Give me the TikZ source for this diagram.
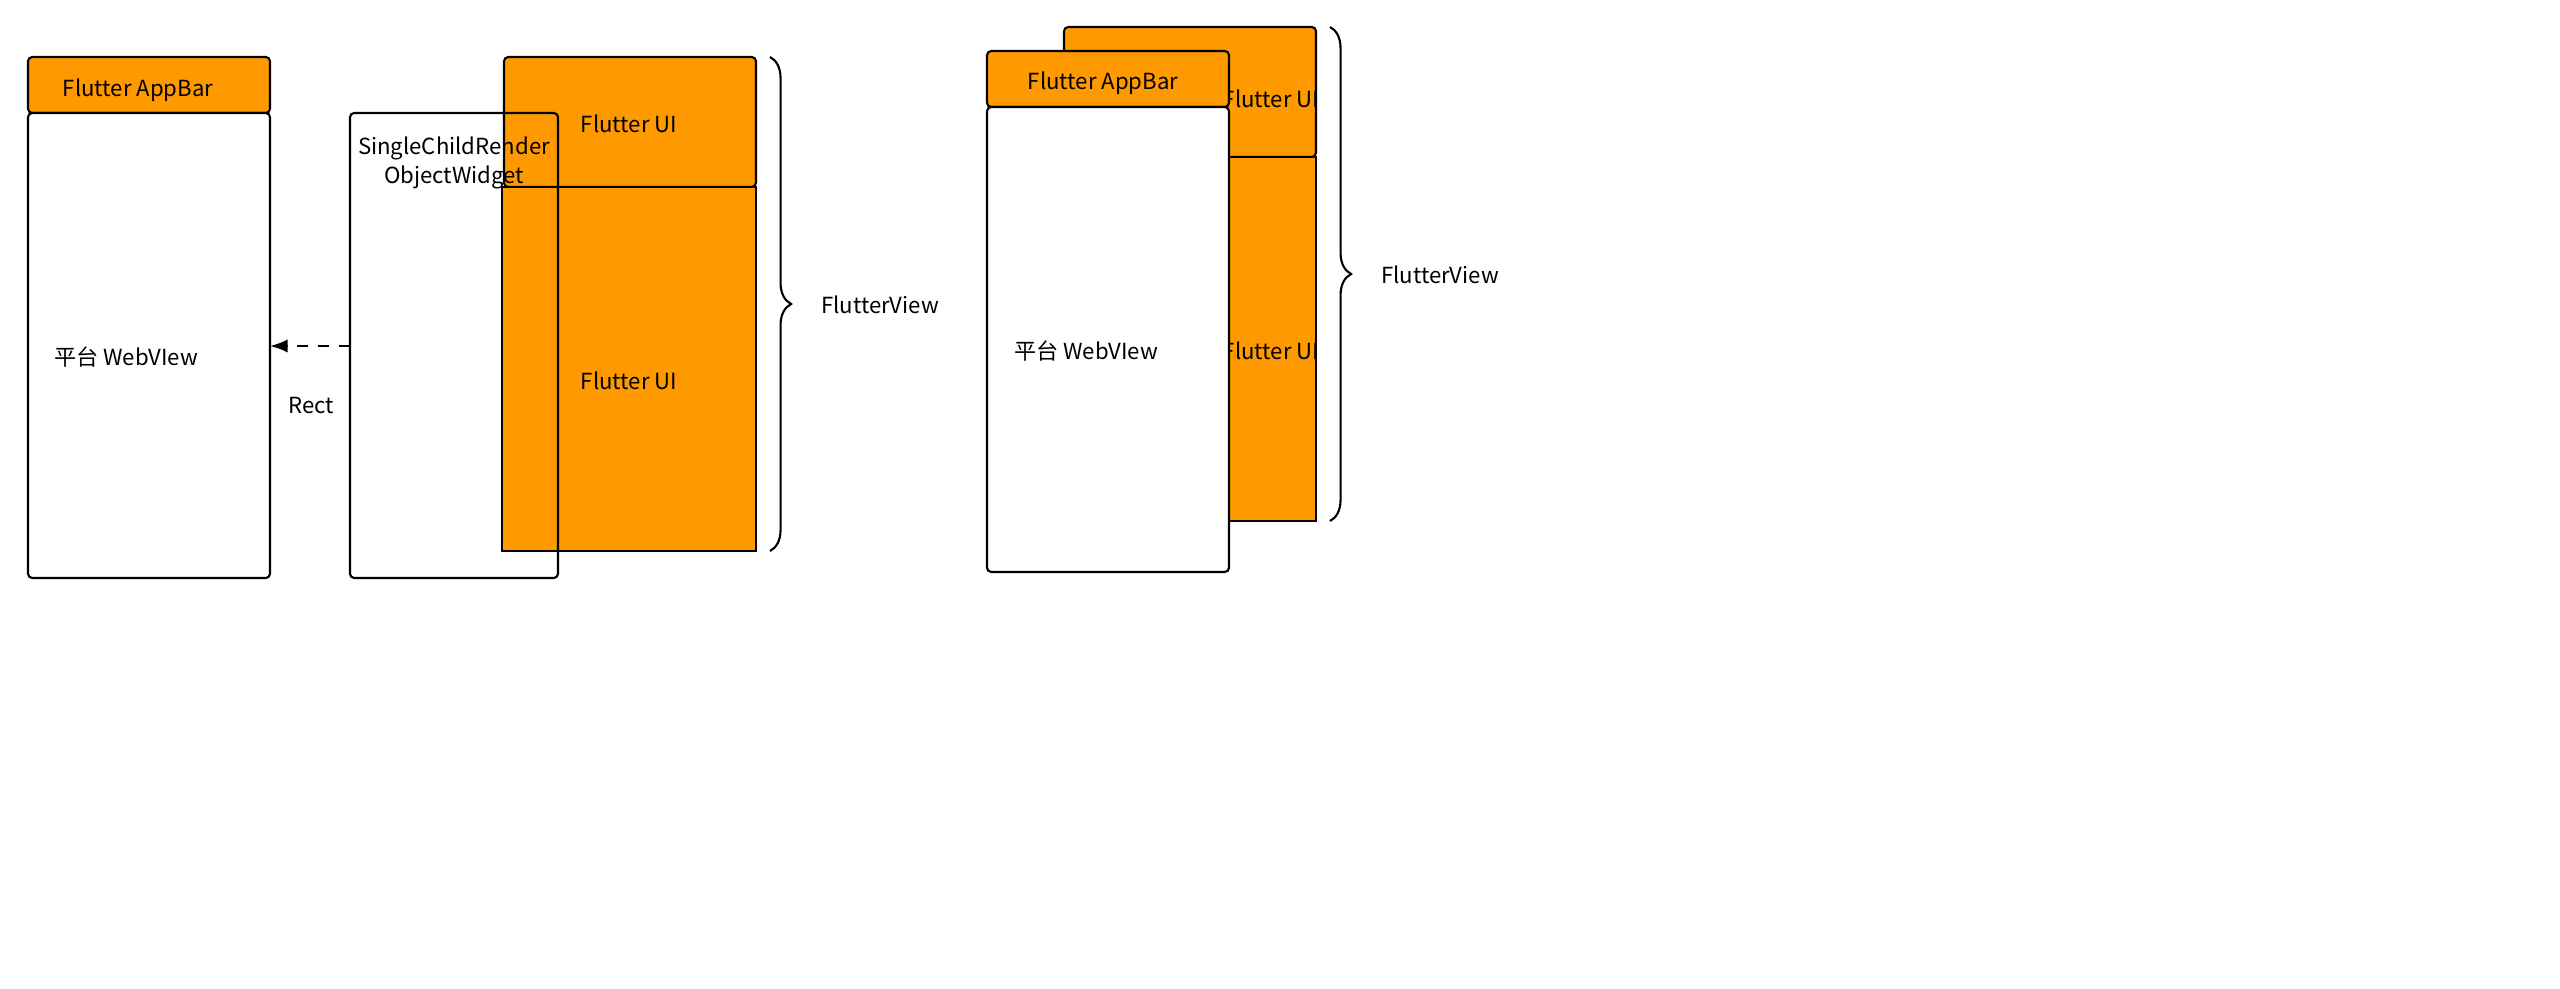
\documentclass[tikz,border=0pt]{standalone}
\usepackage{fontspec}
\setmainfont{Noto Sans CJK SC}
\usetikzlibrary{decorations.pathreplacing,arrows.meta}
\definecolor{og}{HTML}{FF9900}
\begin{document}
\begin{tikzpicture}[x=0.01cm,y=-0.01cm,line width=0.6pt,
  box/.style={draw=black,rounded corners=1.2pt},
  lbl/.style={font=\fontsize{6.3}{8}\selectfont,align=center},
  br/.style={decorate,decoration={brace,amplitude=6pt}}]
\useasboundingbox (0,0) rectangle (2560,989);
% left
\draw[box,fill=og] (28,57) rectangle (270,113);
\draw[box,fill=white] (28,113) rectangle (270,578);
\node[lbl] (ab1) at (138,90) {Flutter AppBar};
\node[lbl] (wv1) at (126,357) {平台 WebVIew};
% middle
\fill[white] (350,113) rectangle (558,578);
\draw[box,fill=og] (504,57) rectangle (756,187);
\draw[fill=og] (502,187) rectangle (756,551);
\draw[box] (350,113) rectangle (558,578);
\node[lbl] (fu1) at (629,124) {Flutter UI};
\node[lbl] (fu2) at (629,381) {Flutter UI};
\node[lbl] (sc) at (454,163) {SingleChildRender\\ObjectWidget};
\coordinate (as) at (350,346);
\coordinate (ae) at (270,346);
\draw[dashed,-{Latex[length=5pt]}] (as) -- (ae);
\node[lbl] (rect) at (311,406) {Rect};
\coordinate (b1) at (770,57); \coordinate (b2) at (770,551);
\draw[br] (b1) -- (b2);
\node[lbl] (fv1) at (880,305) {FlutterView};
% right
\draw[box,fill=og] (1064,27) rectangle (1316,157);
\draw[fill=og] (1064,157) rectangle (1316,521);
\node[lbl] (fu3) at (1271,99) {Flutter UI};
\node[lbl] (fu4) at (1271,351) {Flutter UI};
\draw[box,fill=og] (987,51) rectangle (1229,107);
\draw[box,fill=white] (987,107) rectangle (1229,572);
\node[lbl] (ab2) at (1103,83) {Flutter AppBar};
\node[lbl] (wv2) at (1086,351) {平台 WebVIew};
\coordinate (b3) at (1330,27); \coordinate (b4) at (1330,521);
\draw[br] (b3) -- (b4);
\node[lbl] (fv2) at (1440,275) {FlutterView};
\end{tikzpicture}
\end{document}
